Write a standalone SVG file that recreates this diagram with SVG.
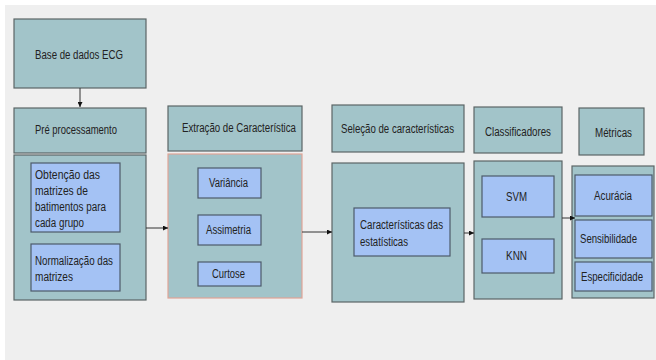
<svg xmlns="http://www.w3.org/2000/svg" width="656" height="360" viewBox="0 0 656 360">
  <defs>
    <marker id="arrow" viewBox="0 0 6 6" refX="6" refY="3" markerWidth="5" markerHeight="5" orient="auto" markerUnits="userSpaceOnUse">
      <path d="M0,0 L6,3 L0,6 Z" fill="#111"/>
    </marker>
    <style>
      .stage { fill: #a2c4c9; stroke: #5b6566; stroke-width: 1.2; }
      .stage-alt { fill: #a2c4c9; stroke: #e0a496; stroke-width: 1.2; }
      .item { fill: #a4c2f4; stroke: #4d5a6a; stroke-width: 1.2; }
      text { font-family: "Liberation Sans", Arial, sans-serif; font-size: 12.5px; fill: #222; }
      .edge { stroke: #333; stroke-width: 1; fill: none; marker-end: url(#arrow); }
    </style>
  </defs>

  <rect x="0" y="0" width="656" height="360" fill="#ffffff"/>
  <rect x="5" y="5" width="651" height="355" fill="#efefef"/>

  <g id="base-dados">
    <rect class="stage" x="14" y="19" width="132" height="69"/>
    <text x="35" y="59" textLength="88" lengthAdjust="spacingAndGlyphs">Base de dados ECG</text>
  </g>

  <g id="pre-processamento">
    <rect class="stage" x="14" y="108" width="132" height="45"/>
    <text x="35" y="134" textLength="82" lengthAdjust="spacingAndGlyphs">Pré processamento</text>
  </g>

  <g id="pre-processamento-etapas">
    <rect class="stage" x="14" y="155" width="132" height="145"/>
    <rect class="item" x="31" y="163" width="89" height="69"/>
    <text x="35" y="179" textLength="65" lengthAdjust="spacingAndGlyphs">Obtenção das</text>
    <text x="35" y="195" textLength="53" lengthAdjust="spacingAndGlyphs">matrizes de</text>
    <text x="35" y="211" textLength="71" lengthAdjust="spacingAndGlyphs">batimentos para</text>
    <text x="35" y="227" textLength="49" lengthAdjust="spacingAndGlyphs">cada grupo</text>
    <rect class="item" x="31" y="244" width="89" height="47"/>
    <text x="35" y="265" textLength="78" lengthAdjust="spacingAndGlyphs">Normalização das</text>
    <text x="35" y="281" textLength="38" lengthAdjust="spacingAndGlyphs">matrizes</text>
  </g>

  <g id="extracao">
    <rect class="stage" x="168" y="106" width="134" height="45"/>
    <text x="182" y="132" textLength="114" lengthAdjust="spacingAndGlyphs">Extração de Característica</text>
  </g>

  <g id="extracao-etapas">
    <rect class="stage-alt" x="168" y="154" width="134" height="144"/>
    <rect class="item" x="198" y="168" width="63" height="30"/>
    <text x="209" y="187" textLength="39" lengthAdjust="spacingAndGlyphs">Variância</text>
    <rect class="item" x="198" y="215" width="63" height="30"/>
    <text x="206" y="234" textLength="45" lengthAdjust="spacingAndGlyphs">Assimetria</text>
    <rect class="item" x="198" y="262" width="63" height="24"/>
    <text x="212" y="278" textLength="33" lengthAdjust="spacingAndGlyphs">Curtose</text>
  </g>

  <g id="selecao">
    <rect class="stage" x="332" y="105" width="132" height="47"/>
    <text x="341" y="133" textLength="113" lengthAdjust="spacingAndGlyphs">Seleção de características</text>
  </g>

  <g id="selecao-etapas">
    <rect class="stage" x="332" y="163" width="132" height="139"/>
    <rect class="item" x="354" y="208" width="96" height="48"/>
    <text x="360" y="229" textLength="83" lengthAdjust="spacingAndGlyphs">Características das</text>
    <text x="360" y="246" textLength="48" lengthAdjust="spacingAndGlyphs">estatísticas</text>
  </g>

  <g id="classificadores">
    <rect class="stage" x="474" y="107" width="88" height="46"/>
    <text x="485" y="136" textLength="66" lengthAdjust="spacingAndGlyphs">Classificadores</text>
  </g>

  <g id="classificadores-etapas">
    <rect class="stage" x="474" y="161" width="88" height="138"/>
    <rect class="item" x="482" y="176" width="72" height="41"/>
    <text x="506" y="201" textLength="21" lengthAdjust="spacingAndGlyphs">SVM</text>
    <rect class="item" x="482" y="239" width="72" height="34"/>
    <text x="506" y="260" textLength="21" lengthAdjust="spacingAndGlyphs">KNN</text>
  </g>

  <g id="metricas">
    <rect class="stage" x="579" y="108" width="65" height="47"/>
    <text x="595" y="137" textLength="37" lengthAdjust="spacingAndGlyphs">Métricas</text>
  </g>

  <g id="metricas-etapas">
    <rect class="stage" x="572" y="166" width="82" height="132"/>
    <rect class="item" x="575" y="175" width="77" height="41"/>
    <text x="594" y="200" textLength="38" lengthAdjust="spacingAndGlyphs">Acurácia</text>
    <rect class="item" x="575" y="220" width="77" height="38"/>
    <text x="580" y="243" textLength="57" lengthAdjust="spacingAndGlyphs">Sensibilidade</text>
    <rect class="item" x="575" y="262" width="77" height="29"/>
    <text x="581" y="281" textLength="62" lengthAdjust="spacingAndGlyphs">Especificidade</text>
  </g>

  <g id="connectors">
    <line class="edge" x1="80" y1="88" x2="80" y2="107"/>
    <line class="edge" x1="146" y1="228" x2="168" y2="228"/>
    <line class="edge" x1="302" y1="232" x2="332" y2="232"/>
    <line class="edge" x1="464" y1="233" x2="474" y2="233"/>
    <line class="edge" x1="562" y1="218" x2="575" y2="218"/>
  </g>
</svg>
